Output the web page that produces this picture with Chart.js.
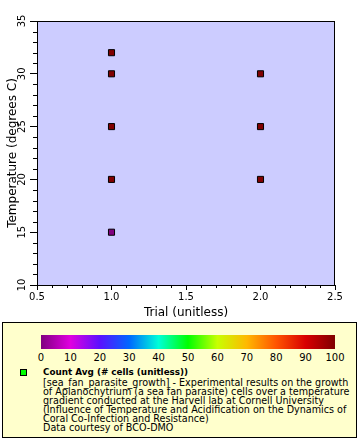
<!DOCTYPE html>
<html>
<head>
<meta charset="utf-8">
<script src="https://cdn.jsdelivr.net/npm/chart.js@4"></script>
<style>
  body { margin: 0; background: #fff; font-family: "DejaVu Sans", sans-serif; }
  #wrap { position: relative; width: 360px; height: 440px; }
  #chart { position: absolute; left: 0; top: 0; }
  #legend { position: absolute; left: 2px; top: 322px; width: 353px; height: 114px;
    border: 1px solid #000; background: #ffffcc; }
  #bar { position: absolute; left: 38px; top: 12px; width: 294px; height: 14px; }
  .cb { position: absolute; top: 29px; font-size: 10px; transform: translateX(-50%); color: #000; }
  #swatch { position: absolute; left: 17px; top: 46px; width: 5px; height: 5px; background: #00ff00; border: 1px solid #000; }
  #ltitle { position: absolute; left: 40px; top: 45px; font-size: 8.8px; line-height: 9px; font-weight: bold; color: #000; white-space: pre; }
  #ltext { position: absolute; left: 40px; top: 55px; font-size: 9.6px; line-height: 9px; color: #000; white-space: pre; }
</style>
</head>
<body>
<div id="wrap">
  <canvas id="chart" width="360" height="320"></canvas>
  <div id="legend">
    <div id="bar"></div>
    <div id="swatch"></div>
    <div id="ltitle"></div>
    <div id="ltext"></div>
  </div>
</div>
<script>
// 資料
const trials = [1, 1, 1, 1, 1, 2, 2, 2];
const temps = [32, 30, 25, 20, 15, 30, 25, 20];
const counts = [100, 100, 100, 100, 0, 100, 100, 100];
const xTicks = [0.5, 1, 1.5, 2, 2.5];
const yTicks = [10, 15, 20, 25, 30, 35];
const cbTicks = [0, 10, 20, 30, 40, 50, 60, 70, 80, 90, 100];
const cbColors = ['#800080', '#e000e0', '#5a10ff', '#0068ff', '#00ffd8', '#00ff00',
                  '#c8ff00', '#ffb800', '#ff5400', '#d80000', '#800000'];

const legendTitle = 'Count Avg (# cells (unitless))';
const legendLines = [
  '[sea_fan_parasite_growth] - Experimental results on the growth',
  'of Aplanochytrium (a sea fan parasite) cells over a temperature',
  'gradient conducted at the Harvell lab at Cornell University',
  '(Influence of Temperature and Acidification on the Dynamics of',
  'Coral Co-Infection and Resistance)',
  'Data courtesy of BCO-DMO'
];

function hexToRgb(h) {
  return [parseInt(h.slice(1, 3), 16), parseInt(h.slice(3, 5), 16), parseInt(h.slice(5, 7), 16)];
}
function colorFor(v) {
  const t = Math.max(0, Math.min(100, v)) / 10;
  const i = Math.min(9, Math.floor(t));
  const f = t - i;
  const a = hexToRgb(cbColors[i]), b = hexToRgb(cbColors[i + 1]);
  const c = a.map((x, k) => Math.round(x + (b[k] - x) * f));
  return `rgb(${c[0]},${c[1]},${c[2]})`;
}

// 圖例
const bar = document.getElementById('bar');
bar.style.background = 'linear-gradient(to right,' +
  cbColors.map((c, i) => `${c} ${cbTicks[i]}%`).join(',') + ')';
const legend = document.getElementById('legend');
cbTicks.forEach(v => {
  const s = document.createElement('span');
  s.className = 'cb';
  s.style.left = (38 + 294 * v / 100) + 'px';
  s.textContent = v;
  legend.appendChild(s);
});
document.getElementById('ltitle').textContent = legendTitle;
document.getElementById('ltext').textContent = legendLines.join('\n');

// 背景、邊框與次刻度
const plotDeco = {
  id: 'plotDeco',
  beforeDraw(chart) {
    const { ctx, chartArea: a } = chart;
    ctx.save();
    ctx.fillStyle = '#ccccff';
    ctx.fillRect(a.left, a.top, a.right - a.left, a.bottom - a.top);
    ctx.restore();
  },
  afterDraw(chart) {
    const { ctx, chartArea: a, scales } = chart;
    ctx.save();
    ctx.strokeStyle = '#000';
    ctx.lineWidth = 1;
    ctx.strokeRect(a.left + 0.5, a.top + 0.5, a.right - a.left - 1, a.bottom - a.top);
    ctx.beginPath();
    for (let v = 10; v <= 35; v++) {
      if (v % 5 === 0) continue;
      const y = Math.round(scales.y.getPixelForValue(v)) + 0.5;
      ctx.moveTo(a.left - 4, y); ctx.lineTo(a.left, y);
    }
    for (let k = 5; k <= 25; k++) {
      if (k % 5 === 0) continue;
      const x = Math.round(scales.x.getPixelForValue(k / 10)) + 0.5;
      ctx.moveTo(x, a.bottom); ctx.lineTo(x, a.bottom + 3);
    }
    ctx.stroke();
    ctx.restore();
  }
};

const ctx = document.getElementById('chart').getContext('2d');
new Chart(ctx, {
  type: 'scatter',
  data: {
    datasets: [{
      data: trials.map((t, i) => ({ x: t, y: temps[i] })),
      pointStyle: 'rect',
      pointRadius: 4.3,
      pointHoverRadius: 4.3,
      borderWidth: 1,
      borderColor: '#000',
      backgroundColor: counts.map(colorFor)
    }]
  },
  plugins: [plotDeco],
  options: {
    responsive: false,
    animation: false,
    events: [],
    layout: { padding: { top: 21, right: 25, left: 0, bottom: 0 } },
    plugins: { legend: { display: false }, tooltip: { enabled: false } },
    scales: {
      x: {
        type: 'linear', min: 0.5, max: 2.5,
        afterBuildTicks: s => { s.ticks = xTicks.map(v => ({ value: v })); },
        afterFit: s => { s.height = 35; },
        ticks: { color: '#000', font: { family: 'DejaVu Sans', size: 10 }, padding: 1, maxRotation: 0, autoSkip: false },
        grid: { drawOnChartArea: false, tickLength: 5, tickColor: '#000' },
        border: { display: false },
        title: { display: true, text: 'Trial (unitless)', color: '#000',
          font: { family: 'DejaVu Sans', size: 12 }, padding: { top: 0, bottom: 0 } }
      },
      y: {
        type: 'linear', min: 10, max: 35,
        afterBuildTicks: s => { s.ticks = yTicks.map(v => ({ value: v })); },
        afterFit: s => { s.width = 37; },
        ticks: { color: '#000', font: { family: 'DejaVu Sans', size: 10 }, padding: 1,
          minRotation: 90, maxRotation: 90, crossAlign: 'center', autoSkip: false },
        grid: { drawOnChartArea: false, tickLength: 7, tickColor: '#000' },
        border: { display: false },
        title: { display: true, text: 'Temperature (degrees C)', color: '#000',
          font: { family: 'DejaVu Sans', size: 12 }, padding: { top: 6, bottom: 0 } }
      }
    }
  }
});
</script>
</body>
</html>
